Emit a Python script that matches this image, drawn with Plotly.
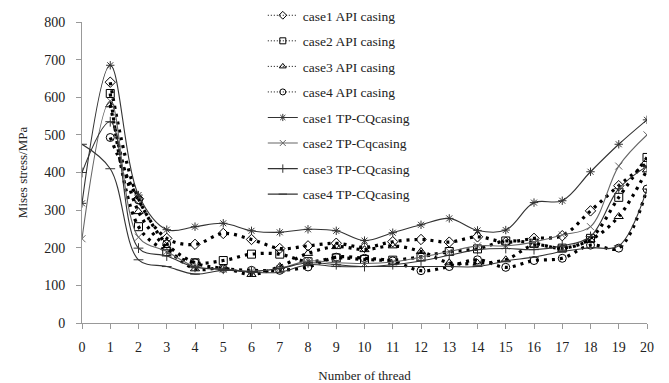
import plotly.graph_objects as go

threads = list(range(0, 21))

# API casing results (no value at thread 0)
case1_api = [None, 640, 330, 225, 209, 238, 222, 198, 205, 212, 201, 216, 222, 215, 229, 215, 225, 232, 298, 365, 425]
case2_api = [None, 610, 256, 190, 160, 166, 183, 183, 163, 173, 169, 167, 176, 190, 197, 218, 212, 199, 225, 334, 440]
case3_api = [None, 580, 296, 200, 144, 146, 129, 150, 185, 203, 195, 205, 190, 160, 159, 168, 207, 199, 221, 283, 407]
case4_api = [None, 493, 327, 210, 160, 145, 140, 140, 149, 175, 172, 165, 139, 150, 168, 148, 166, 172, 207, 199, 356]

# TP-CQ casing results
case1_tp = [318, 685, 340, 248, 256, 265, 245, 241, 249, 245, 219, 240, 261, 278, 246, 247, 320, 325, 402, 475, 540]
case2_tp = [224, 590, 228, 190, 150, 143, 138, 145, 165, 160, 158, 162, 175, 190, 205, 205, 215, 234, 256, 417, 500]
case3_tp = [400, 535, 199, 178, 148, 143, 137, 145, 160, 155, 150, 155, 165, 180, 195, 198, 195, 205, 230, 357, 417]
case4_tp = [475, 410, 168, 150, 130, 140, 135, 135, 155, 150, 150, 150, 150, 150, 150, 165, 175, 190, 200, 205, 356]

x_ticks = [str(i) for i in range(0, 21)]
y_ticks = [0, 100, 200, 300, 400, 500, 600, 700, 800]

FONT = "Liberation Serif"

series = [
    ("case1 API casing", case1_api, "diamond-open", "dot"),
    ("case2 API casing", case2_api, "square-open", "dot"),
    ("case3 API casing", case3_api, "triangle-up-open", "dot"),
    ("case4 API casing", case4_api, "circle-open", "dot"),
    ("case1 TP-CQcasing", case1_tp, "asterisk-open", "solid"),
    ("case2 TP-Cqcasing", case2_tp, "x-thin-open", "solid"),
    ("case3 TP-CQcasing", case3_tp, "cross-thin-open", "solid"),
    ("case4 TP-CQcasing", case4_tp, "line-ew-open", "solid"),
]

fig = go.Figure()
for i, (name, vals, sym, style) in enumerate(series):
    if style == "dot":
        line = dict(color="#000000", width=3.2, dash="3px,5px", shape="spline", smoothing=1.0)
        marker = dict(symbol=sym, size=8, color="#000000", line=dict(width=1, color="#000000"))
        key_line = dict(color="#000000", width=1, dash="1px,2px")
        key_marker = dict(symbol=sym, size=6, color="#000000", line=dict(width=1, color="#000000"))
    else:
        col = "#333333" if i in (4, 6, 7) else "#666666"
        line = dict(color=col, width=1.1, shape="spline", smoothing=1.0)
        marker = dict(symbol=sym, size=7, color=col, line=dict(width=1, color=col))
        key_line = dict(color=col, width=1.1)
        key_marker = dict(symbol=sym, size=6, color=col, line=dict(width=1, color=col))
    # data curve
    fig.add_trace(go.Scatter(
        x=threads, y=vals, name=name, mode="lines+markers",
        line=line, marker=marker, showlegend=False, connectgaps=False,
    ))
    # legend key with a fine line style
    fig.add_trace(go.Scatter(
        x=[None], y=[None], name=name, mode="lines+markers",
        line=key_line, marker=key_marker, legendgroup=f"g{i}", showlegend=True,
    ))

fig.update_layout(
    width=669, height=383,
    margin=dict(l=82, r=22, t=0, b=60),
    paper_bgcolor="white", plot_bgcolor="white",
    font=dict(family=FONT, size=14, color="#222222"),
    showlegend=True,
    legend=dict(
        x=0.32, y=1.0, xanchor="left", yanchor="top",
        bgcolor="rgba(255,255,255,0)", font=dict(family=FONT, size=13.5, color="#222222"),
        tracegroupgap=5, traceorder="grouped", maxheight=260,
    ),
    xaxis=dict(
        range=[0, 20], tickmode="array", tickvals=threads, ticktext=x_ticks,
        showgrid=False, zeroline=False, showline=True, linecolor="#999999", linewidth=1,
        ticks="outside", ticklen=5, tickcolor="#999999", ticklabelstandoff=6,
        tickfont=dict(family=FONT, size=14), automargin=False,
        title=dict(text="Number of thread", font=dict(family=FONT, size=13), standoff=19),
    ),
    yaxis=dict(
        range=[0, 800], tickmode="array", tickvals=y_ticks, domain=[0, 301 / 323],
        showgrid=False, zeroline=False, showline=True, linecolor="#999999", linewidth=1,
        ticks="outside", ticklen=5, tickcolor="#999999", ticklabelstandoff=8,
        tickfont=dict(family=FONT, size=14), automargin=False,
        title=dict(text="Mises stress/MPa", font=dict(family=FONT, size=13), standoff=13),
    ),
)

fig.write_html("out.html")
